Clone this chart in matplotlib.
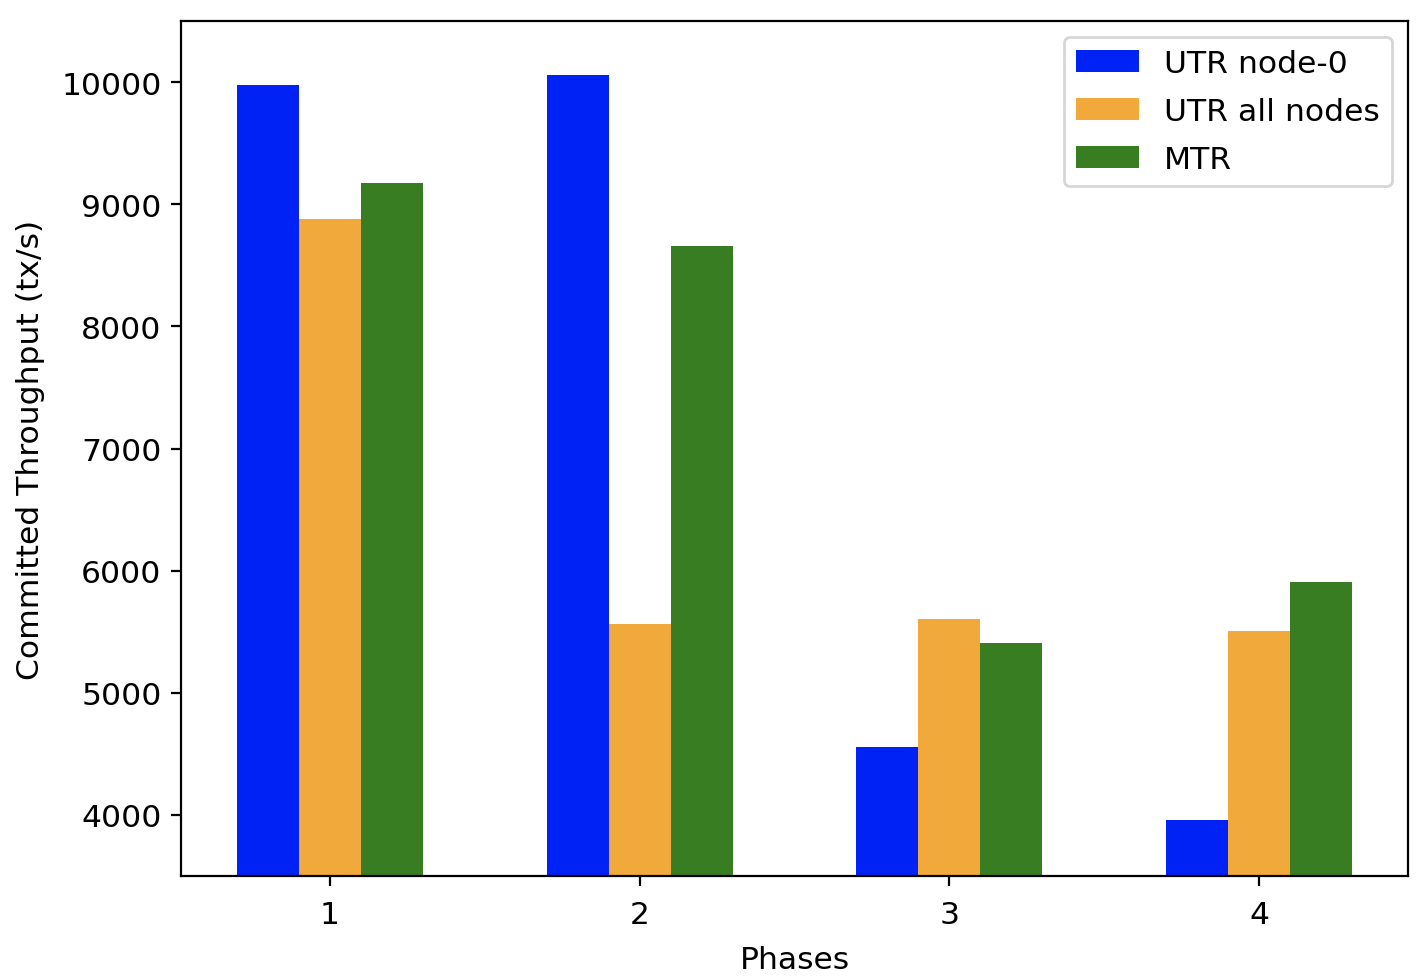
import numpy as np
import matplotlib
matplotlib.use("Agg")
import matplotlib.pyplot as plt

phases = [1, 2, 3, 4]
utr_node0 = [9980, 10060, 4555, 3960]
utr_all = [8880, 5565, 5605, 5505]
mtr = [9175, 8660, 5410, 5905]

plt.rcParams['font.size'] = 11.3

x = np.array(phases)
w = 0.2

fig, ax = plt.subplots(figsize=(7.13, 4.89), dpi=200)
ax.bar(x - w, utr_node0, w, color='#0022F5', label='UTR node-0')
ax.bar(x, utr_all, w, color='#F2A93B', label='UTR all nodes')
ax.bar(x + w, mtr, w, color='#387D22', label='MTR')

ax.set_ylim(3500, 10500)
ax.set_xticks(x)
ax.tick_params(axis='x', pad=5)
ax.set_xlabel('Phases', labelpad=6)
ax.set_ylabel('Committed Throughput (tx/s)', labelpad=6)
ax.legend(loc='upper right', labelspacing=0.6)

fig.subplots_adjust(left=181/1426, right=1408/1426, top=1-22/978, bottom=1-877/978)
fig.savefig('out.png', dpi=200)
